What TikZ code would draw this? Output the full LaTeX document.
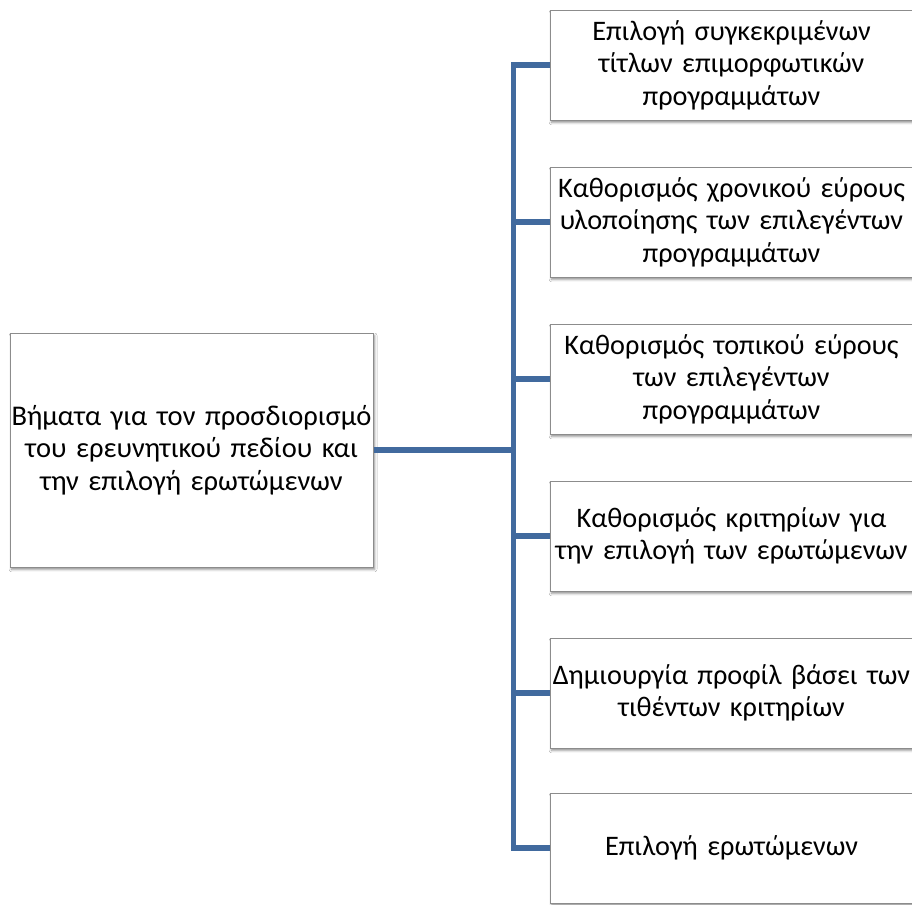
\documentclass[tikz,border=0pt]{standalone}
\usepackage{fontspec}
\setmainfont{Carlito}
\usetikzlibrary{shadows.blur}
\definecolor{linkblue}{RGB}{65,106,158}
\definecolor{boxgray}{RGB}{140,140,140}
\begin{document}
\begin{tikzpicture}[x=0.75pt,y=-0.75pt,
  stepbox/.style={draw=boxgray, line width=0.75pt, fill=white, rectangle,
    inner xsep=1.125pt, inner ysep=0pt, text width=270pt, align=center,
    minimum height=82.5pt, font=\fontsize{21.2}{24.4}\selectfont,
    blur shadow={shadow xshift=1.2pt, shadow yshift=-1.8pt, shadow blur radius=1.8pt, shadow opacity=45}},
  rootbox/.style={stepbox, minimum height=175.5pt, font=\fontsize{21.4}{24.4}\selectfont},
  link/.style={draw=linkblue, line width=3.9pt}]
\useasboundingbox[fill=white] (0,0) rectangle (912,904);

\node[rootbox] (root) at (191.5,450) {\mbox{Βήματα για τον προσδιορισμό}\\\mbox{του ερευνητικού πεδίου και}\\\mbox{την επιλογή ερωτώμενων}};

\node[stepbox] (a1) at (731.5,65) {\mbox{Επιλογή συγκεκριμένων}\\\mbox{τίτλων επιμορφωτικών}\\\mbox{προγραμμάτων}};
\node[stepbox] (a2) at (731.5,222) {\mbox{Καθορισμός χρονικού εύρους}\\\mbox{υλοποίησης των επιλεγέντων}\\\mbox{προγραμμάτων}};
\node[stepbox] (a3) at (731.5,379) {\mbox{Καθορισμός τοπικού εύρους}\\\mbox{των επιλεγέντων}\\\mbox{προγραμμάτων}};
\node[stepbox] (a4) at (731.5,536) {\mbox{Καθορισμός κριτηρίων για}\\\mbox{την επιλογή των ερωτώμενων}};
\node[stepbox] (a5) at (731.5,693) {\mbox{Δημιουργία προφίλ βάσει των}\\\mbox{τιθέντων κριτηρίων}};
\node[stepbox] (a6) at (731.5,848) {\mbox{Επιλογή ερωτώμενων}};

\coordinate (trunk) at (513.5,450);
\draw[link] (root.east) -- (trunk);
\draw[link] (a1.west) -- (a1.west -| trunk) -- (a6.west -| trunk) -- (a6.west);
\draw[link] (a2.west) -- (a2.west -| trunk);
\draw[link] (a3.west) -- (a3.west -| trunk);
\draw[link] (a4.west) -- (a4.west -| trunk);
\draw[link] (a5.west) -- (a5.west -| trunk);
\end{tikzpicture}
\end{document}
